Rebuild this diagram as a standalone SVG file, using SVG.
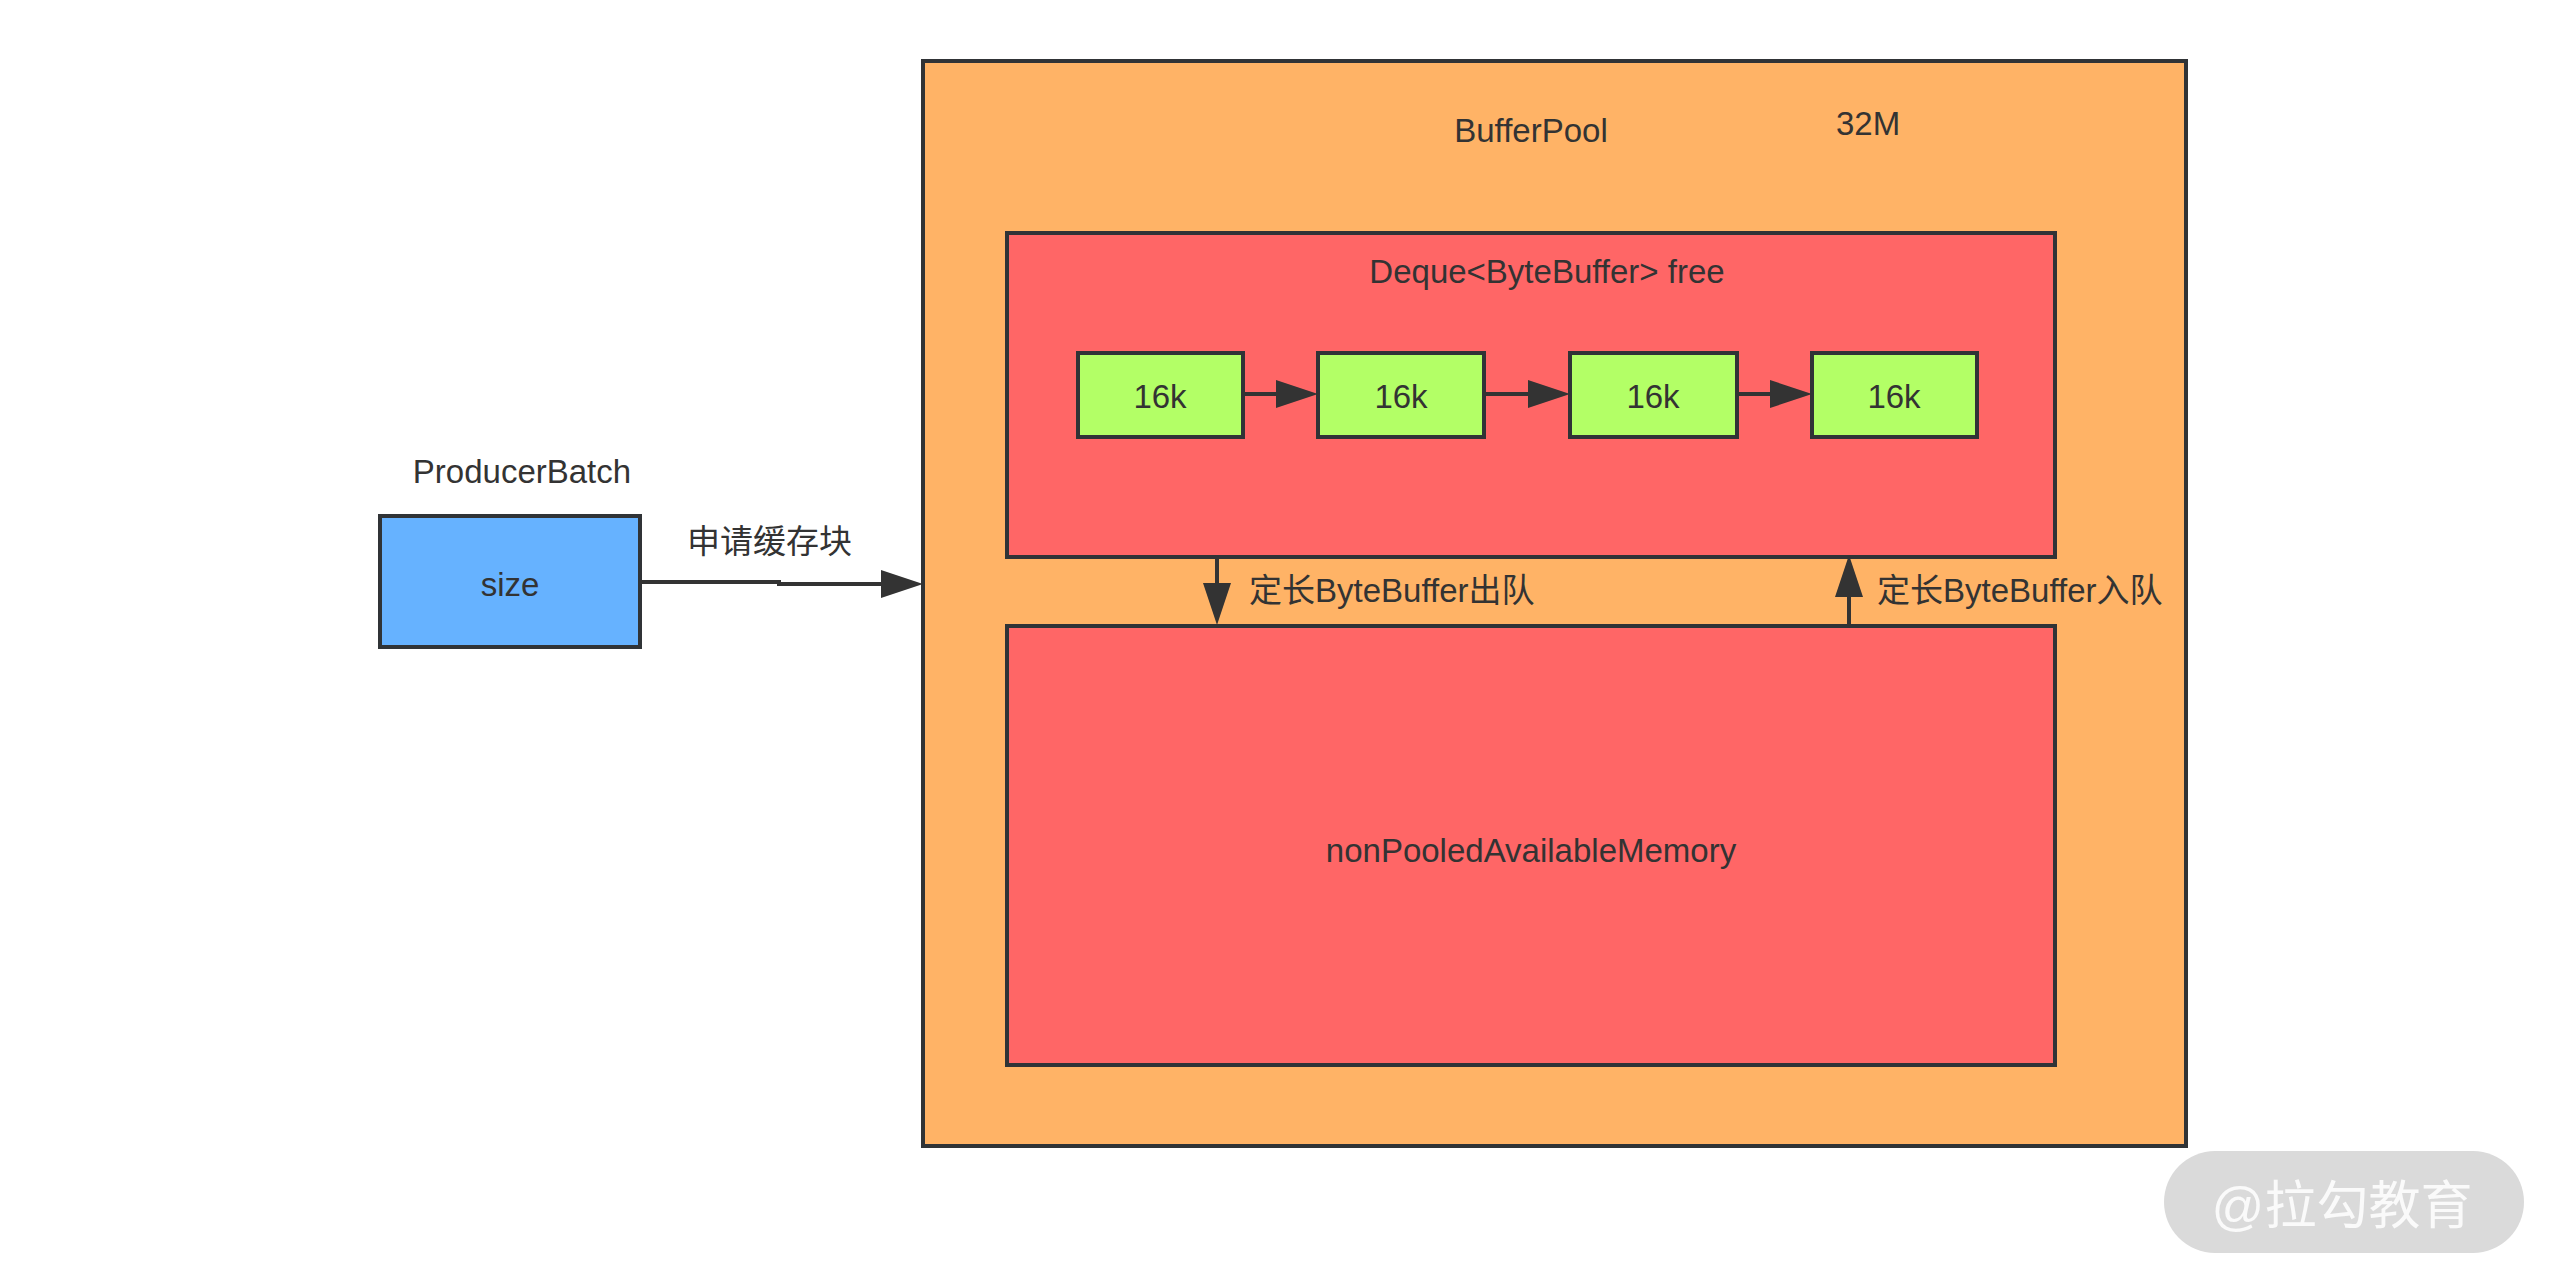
<svg xmlns="http://www.w3.org/2000/svg" width="2559" height="1287" viewBox="0 0 2559 1287">
<style>
.box{stroke:#303336;stroke-width:4}
.t{font-family:"Liberation Sans","Noto Sans CJK SC",sans-serif;font-size:33px;fill:#333333}
.c{text-anchor:middle}
.ln{fill:none;stroke:#333333;stroke-width:4}
</style>
<defs>
<marker id="ah" viewBox="0 0 42 28" refX="12" refY="14" markerWidth="42" markerHeight="28" markerUnits="userSpaceOnUse" orient="auto">
<path d="M0,0 L42,14 L0,28 Z" fill="#333333"/>
</marker>
</defs>
<rect width="2559" height="1287" fill="#ffffff"/>
<g id="bufferpool">
<rect class="box" x="923" y="61" width="1263" height="1085" fill="#FFB366"/>
<text class="t c" x="1531" y="142">BufferPool</text>
<text class="t" x="1836" y="135">32M</text>
</g>
<g id="deque">
<rect class="box" x="1007" y="233" width="1048" height="324" fill="#FF6666"/>
<text class="t c" x="1547" y="283">Deque&lt;ByteBuffer&gt; free</text>
</g>
<g id="buf1">
<rect class="box" x="1078" y="353" width="165" height="84" fill="#B3FF66"/>
<text class="t c" x="1160" y="408">16k</text>
</g>
<g id="buf2">
<rect class="box" x="1318" y="353" width="166" height="84" fill="#B3FF66"/>
<text class="t c" x="1401" y="408">16k</text>
</g>
<g id="buf3">
<rect class="box" x="1570" y="353" width="167" height="84" fill="#B3FF66"/>
<text class="t c" x="1653" y="408">16k</text>
</g>
<g id="buf4">
<rect class="box" x="1812" y="353" width="165" height="84" fill="#B3FF66"/>
<text class="t c" x="1894" y="408">16k</text>
</g>
<g id="nonpooled">
<rect class="box" x="1007" y="626" width="1048" height="439" fill="#FF6666"/>
<text class="t c" x="1531" y="862">nonPooledAvailableMemory</text>
</g>
<g id="producerbatch">
<text class="t c" x="522" y="483">ProducerBatch</text>
<rect class="box" x="380" y="516" width="260" height="131" fill="#66B2FF"/>
<text class="t c" x="510" y="596">size</text>
</g>
<g id="connectors">
<path class="ln" d="M640,582 H779 V584 H893" marker-end="url(#ah)"/>
<text class="t" x="687" y="553">申请缓存块</text>
<path class="ln" d="M1243,394 H1288" marker-end="url(#ah)"/>
<path class="ln" d="M1484,394 H1540" marker-end="url(#ah)"/>
<path class="ln" d="M1737,394 H1782" marker-end="url(#ah)"/>
<path class="ln" d="M1217,557 V595" marker-end="url(#ah)"/>
<text class="t" x="1249" y="602">定长ByteBuffer出队</text>
<path class="ln" d="M1849,626 V585" marker-end="url(#ah)"/>
<text class="t" x="1877" y="602">定长ByteBuffer入队</text>
</g>
<g id="watermark">
<rect x="2164" y="1151" width="360" height="102" rx="51" fill="#DADADA"/>
<text x="2342" y="1224" text-anchor="middle" style="font-family:'Liberation Sans','Noto Sans CJK SC',sans-serif;font-size:52px;fill:#FAFAFA">@拉勾教育</text>
</g>
</svg>
